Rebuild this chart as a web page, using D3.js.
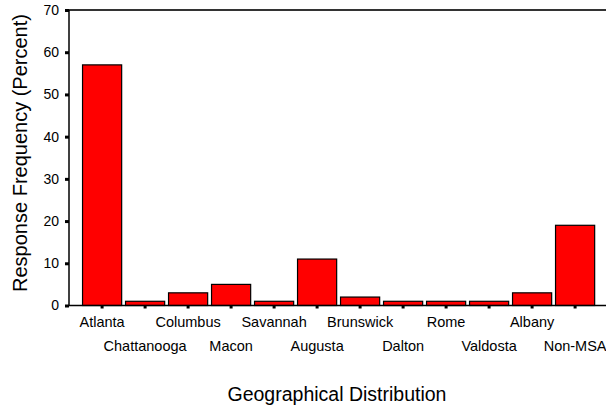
<!DOCTYPE html>
<html><head><meta charset="utf-8">
<script src="https://cdn.jsdelivr.net/npm/d3@7"></script>
<style>body{margin:0;background:#fff}svg{display:block}text{font-family:"Liberation Sans",Arial,sans-serif;fill:#000}</style>
</head><body><svg id="c" width="606" height="409"></svg>
<script>
const categories = ["Atlanta","Chattanooga","Columbus","Macon","Savannah","Augusta","Brunswick","Dalton","Rome","Valdosta","Albany","Non-MSA"];
const values = [57,1,3,5,1,11,2,1,1,1,3,19];
const yTicks = [0,10,20,30,40,50,60,70];

(function(){
const svg = d3.select("#c");
const mLeft = 69, mTop = 10, mBottom = 305.5, mRight = 606;
const x = d3.scaleBand().domain(categories).range([80.6, 596.6]).paddingInner(0.09).paddingOuter(0.045);
const y = d3.scaleLinear().domain([0,70]).range([mBottom, mTop]);

// bars
svg.append("g").selectAll("rect").data(categories).join("rect")
  .attr("x", d => x(d)).attr("width", x.bandwidth())
  .attr("y", (d,i) => y(values[i])).attr("height", (d,i) => mBottom - y(values[i]))
  .attr("fill", "#ff0000").attr("stroke", "#000").attr("stroke-width", 1.2);

// frame lines
svg.append("line").attr("x1", mLeft).attr("x2", mRight).attr("y1", mTop).attr("y2", mTop).attr("stroke", "#333").attr("stroke-width", 2);
svg.append("line").attr("x1", mLeft).attr("x2", mRight).attr("y1", mBottom).attr("y2", mBottom).attr("stroke", "#000").attr("stroke-width", 1.5);
svg.append("line").attr("x1", mLeft).attr("x2", mLeft).attr("y1", mTop).attr("y2", mBottom).attr("stroke", "#000").attr("stroke-width", 1.5);

// y axis
const ya = svg.append("g").attr("transform", `translate(${mLeft},0)`)
  .call(d3.axisLeft(y).tickValues(yTicks).tickSize(4).tickPadding(6));
ya.select(".domain").remove();
ya.selectAll(".tick line").attr("stroke", "#000").attr("stroke-width", 3);
ya.selectAll(".tick text").style("font-family", "Liberation Sans, Arial, sans-serif").style("font-size", "14px").attr("fill", "#000");

// x axis
const xa = svg.append("g").attr("transform", `translate(0,${mBottom})`)
  .call(d3.axisBottom(x).tickSize(3).tickPadding(6));
xa.select(".domain").remove();
xa.selectAll(".tick line").attr("stroke", "#000").attr("stroke-width", 3);
xa.selectAll(".tick text").style("font-family", "Liberation Sans, Arial, sans-serif").style("font-size", "14.5px").attr("fill", "#000")
  .attr("dy", 0).attr("y", (d,i) => i % 2 === 0 ? 21.5 : 45.5);

// titles
svg.append("text").attr("x", 337).attr("y", 401).attr("text-anchor", "middle").style("font-size", "19.5px").text("Geographical Distribution");
svg.append("text").attr("transform", "translate(27,153) rotate(-90)").attr("text-anchor", "middle").style("font-size", "20px").text("Response Frequency (Percent)");
})();
</script></body></html>
